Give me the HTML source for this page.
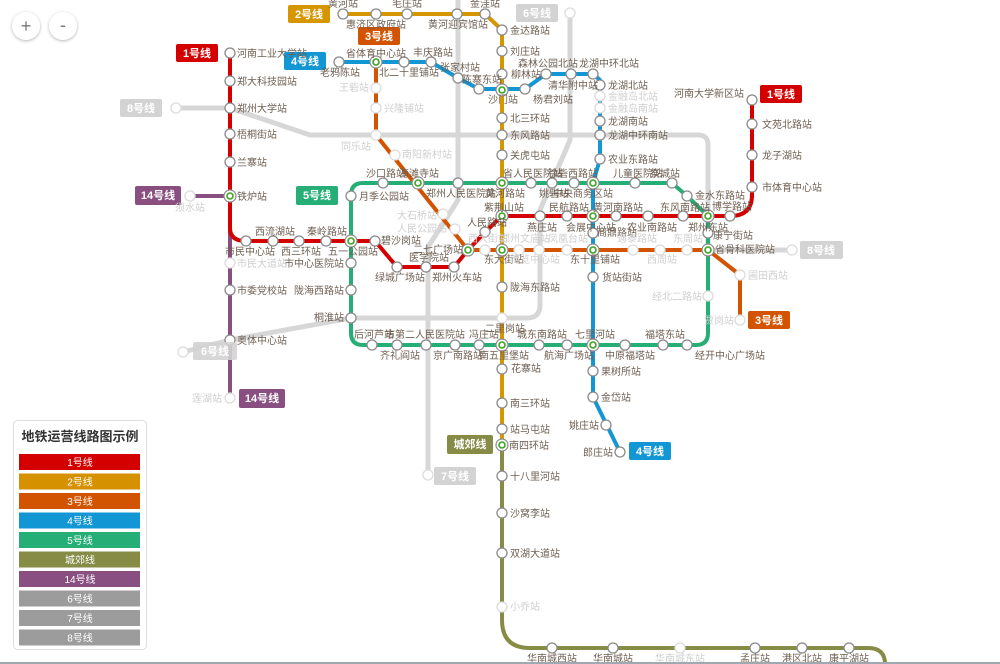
<!DOCTYPE html>
<html><head><meta charset="utf-8"><style>
html,body{margin:0;padding:0;background:#fff;width:1000px;height:664px;overflow:hidden}
svg{display:block;font-family:"Liberation Sans","Noto Sans CJK SC",sans-serif}
.l{font-size:10px;fill:#6e5e50}
.g{font-size:10px;fill:#cfcfcf}
.st{fill:#fff;stroke:#8a8a8a;stroke-width:1.3}
.gs{fill:#fff;stroke:#dcdcdc;stroke-width:1.3}
.tag{font-size:11px;fill:#fff;text-anchor:middle;font-weight:bold}
.lg{font-size:10px;fill:#fff;text-anchor:middle}
</style></head><body>
<svg width="1000" height="664" viewBox="0 0 1000 664">
<defs><filter id="sh" x="-30%" y="-30%" width="160%" height="160%"><feDropShadow dx="0" dy="1" stdDeviation="1.5" flood-color="#000" flood-opacity="0.3"/></filter></defs>
<!-- zoom buttons -->
<circle cx="26" cy="26" r="14" fill="#fff" filter="url(#sh)"/>
<circle cx="63" cy="26" r="14" fill="#fff" filter="url(#sh)"/>
<text x="26" y="32" font-size="18" fill="#777" text-anchor="middle">+</text>
<text x="63" y="31" font-size="18" fill="#777" text-anchor="middle">-</text>

<!-- gray lines -->
<g fill="none" stroke="#d7d7d7" stroke-width="5" stroke-linejoin="round">
<path d="M176,108 L230,108 L310,135 H698 Q708,135 708,145 V250 H792"/>
<path d="M570,13 V140 L540,210 V305 Q540,318 527,318 H351 L230,340 L183,352"/>
<path d="M458,0 V200 L428,247 V475"/>
</g>

<!-- colored lines -->
<g fill="none" stroke-width="4" stroke-linejoin="round">
<path stroke="#25ae76" d="M363,183 H672 L687,196 L708,216 V333 Q708,345 696,345 H363 Q351,345 351,333 V195 Q351,183 363,183 Z"/>
<path stroke="#868b45" d="M502,445 V620 Q502,648 530,648 H868 Q885,648 885,664"/>
<path stroke="#d69600" d="M343,14 H485 L502,30 V445"/>
<path stroke="#d35400" d="M376,62 V135 L468,250 H708 L740,275 V320"/>
<path stroke="#1296d4" d="M339,62 H431 L458,78 L479,89 H525 L546,74 H593 L600,80 V159 L593,183 V397 L620,452"/>
<path stroke="#894f80" d="M190,196 H230 V398"/>
<path stroke="#d40000" d="M230,53 V228 Q230,241 246,241 H375 L397,267 H454 L468,250 L485,232 L502,216 H730 Q752,216 752,195 V100"/>
</g>

<!-- gray end circles -->
<g class="gs"><circle cx="176" cy="108" r="5"/><circle cx="570" cy="13" r="5"/><circle cx="183" cy="352" r="5"/><circle cx="428" cy="475" r="5"/><circle cx="792" cy="250" r="5"/><circle cx="502" cy="318" r="5"/><circle cx="351" cy="318" r="5" class="st"/></g>

<!-- stations -->
<g class="st">
<!-- line1 -->
<circle cx="230" cy="53" r="5"/><circle cx="230" cy="81" r="5"/><circle cx="230" cy="108" r="5"/><circle cx="230" cy="134" r="5"/><circle cx="230" cy="162" r="5"/>
<circle cx="246" cy="241" r="5"/><circle cx="273" cy="241" r="5"/><circle cx="299" cy="241" r="5"/><circle cx="326" cy="241" r="5"/><circle cx="375" cy="241" r="5"/>
<circle cx="397" cy="267" r="5"/><circle cx="426" cy="267" r="5"/><circle cx="454" cy="267" r="5"/><circle cx="485" cy="232" r="5"/>
<circle cx="540" cy="216" r="5"/><circle cx="567" cy="216" r="5"/><circle cx="616" cy="216" r="5"/><circle cx="648" cy="216" r="5"/><circle cx="683" cy="216" r="5"/><circle cx="730" cy="216" r="5"/>
<circle cx="752" cy="187" r="5"/><circle cx="752" cy="155" r="5"/><circle cx="752" cy="124" r="5"/><circle cx="752" cy="100" r="5"/>
<!-- line14 -->
<circle cx="230" cy="290" r="5"/><circle cx="230" cy="340" r="5"/>
<!-- line2 -->
<circle cx="343" cy="14" r="5"/><circle cx="376" cy="14" r="5"/><circle cx="407" cy="14" r="5"/><circle cx="457" cy="14" r="5"/><circle cx="485" cy="14" r="5"/>
<circle cx="502" cy="30" r="5"/><circle cx="502" cy="51" r="5"/><circle cx="502" cy="74" r="5"/><circle cx="502" cy="118" r="5"/><circle cx="502" cy="135" r="5"/><circle cx="502" cy="155" r="5"/>
<circle cx="502" cy="287" r="5"/><circle cx="502" cy="369" r="5"/><circle cx="502" cy="403" r="5"/><circle cx="502" cy="429" r="5"/>
<!-- 城郊 -->
<circle cx="502" cy="476" r="5"/><circle cx="502" cy="513" r="5"/><circle cx="502" cy="553" r="5"/>
<circle cx="552" cy="648" r="5"/><circle cx="613" cy="648" r="5"/><circle cx="755" cy="648" r="5"/><circle cx="802" cy="648" r="5"/><circle cx="849" cy="648" r="5"/>
<!-- line4 -->
<circle cx="339" cy="62" r="5"/><circle cx="404" cy="62" r="5"/><circle cx="431" cy="62" r="5"/><circle cx="458" cy="78" r="5"/><circle cx="479" cy="89" r="5"/><circle cx="525" cy="89" r="5"/>
<circle cx="546" cy="74" r="5"/><circle cx="571" cy="74" r="5"/><circle cx="593" cy="74" r="5"/><circle cx="600" cy="85" r="5"/><circle cx="600" cy="121" r="5"/><circle cx="600" cy="135" r="5"/><circle cx="600" cy="159" r="5"/>
<circle cx="593" cy="233" r="5"/><circle cx="593" cy="277" r="5"/><circle cx="593" cy="371" r="5"/><circle cx="593" cy="397" r="5"/><circle cx="606" cy="425" r="5"/><circle cx="620" cy="452" r="5"/>
<!-- line5 -->
<circle cx="383" cy="183" r="5"/><circle cx="458" cy="183" r="5"/><circle cx="531" cy="183" r="5"/><circle cx="552" cy="183" r="5"/><circle cx="574" cy="183" r="5"/><circle cx="635" cy="183" r="5"/><circle cx="672" cy="183" r="5"/><circle cx="687" cy="196" r="5"/>
<circle cx="708" cy="233" r="5"/><circle cx="351" cy="196" r="5"/><circle cx="351" cy="263" r="5"/><circle cx="351" cy="290" r="5"/>
<circle cx="372" cy="345" r="5"/><circle cx="397" cy="345" r="5"/><circle cx="426" cy="345" r="5"/><circle cx="455" cy="345" r="5"/><circle cx="479" cy="345" r="5"/><circle cx="539" cy="345" r="5"/><circle cx="567" cy="345" r="5"/><circle cx="625" cy="345" r="5"/><circle cx="663" cy="345" r="5"/><circle cx="687" cy="345" r="5"/>
</g>
<!-- gray stations -->
<g class="gs">
<circle cx="190" cy="196" r="5"/><circle cx="230" cy="263" r="5"/><circle cx="230" cy="398" r="5"/>
<circle cx="376" cy="88" r="5"/><circle cx="376" cy="108" r="5"/><circle cx="376" cy="135" r="5"/><circle cx="395" cy="155" r="5"/><circle cx="443" cy="214" r="5"/><circle cx="455" cy="229" r="5"/>
<circle cx="485" cy="250" r="5"/><circle cx="519" cy="250" r="5"/><circle cx="539" cy="250" r="5"/><circle cx="567" cy="250" r="5"/><circle cx="633" cy="250" r="5"/><circle cx="660" cy="250" r="5"/><circle cx="687" cy="250" r="5"/>
<circle cx="740" cy="275" r="5"/><circle cx="740" cy="320" r="5"/><circle cx="708" cy="296" r="5"/>
<circle cx="600" cy="96" r="5"/><circle cx="600" cy="108" r="5"/><circle cx="502" cy="607" r="5"/><circle cx="680" cy="648" r="5"/>
</g>
<!-- interchanges -->
<g>
<g fill="#fff" stroke="#8a8a8a" stroke-width="1.2">
<circle cx="230" cy="196" r="6"/><circle cx="351" cy="241" r="6"/><circle cx="418" cy="183" r="6"/><circle cx="376" cy="62" r="6"/><circle cx="502" cy="90" r="6"/><circle cx="502" cy="183" r="6"/><circle cx="593" cy="183" r="6"/><circle cx="502" cy="216" r="6"/><circle cx="593" cy="216" r="6"/><circle cx="468" cy="250" r="6"/><circle cx="502" cy="250" r="6"/><circle cx="593" cy="250" r="6"/><circle cx="708" cy="216" r="6"/><circle cx="708" cy="250" r="6"/><circle cx="502" cy="345" r="6"/><circle cx="593" cy="345" r="6"/><circle cx="502" cy="445" r="6"/>
</g>
<g fill="none" stroke="#3aa620" stroke-width="1.6">
<circle cx="230" cy="196" r="3"/><circle cx="351" cy="241" r="3"/><circle cx="418" cy="183" r="3"/><circle cx="376" cy="62" r="3"/><circle cx="502" cy="90" r="3"/><circle cx="502" cy="183" r="3"/><circle cx="593" cy="183" r="3"/><circle cx="502" cy="216" r="3"/><circle cx="593" cy="216" r="3"/><circle cx="468" cy="250" r="3"/><circle cx="502" cy="250" r="3"/><circle cx="593" cy="250" r="3"/><circle cx="708" cy="216" r="3"/><circle cx="708" cy="250" r="3"/><circle cx="502" cy="345" r="3"/><circle cx="593" cy="345" r="3"/><circle cx="502" cy="445" r="3"/>
</g></g>

<!-- line tags -->
<g>
<rect x="176" y="44" width="42" height="18" rx="2" fill="#d40000"/><text class="tag" x="197" y="57">1号线</text>
<rect x="760" y="85" width="42" height="18" rx="2" fill="#d40000"/><text class="tag" x="781" y="98">1号线</text>
<rect x="288" y="5" width="42" height="18" rx="2" fill="#d69600"/><text class="tag" x="309" y="18">2号线</text>
<rect x="358" y="27" width="42" height="18" rx="2" fill="#d35400"/><text class="tag" x="379" y="40">3号线</text>
<rect x="748" y="311" width="42" height="18" rx="2" fill="#d35400"/><text class="tag" x="769" y="324">3号线</text>
<rect x="284" y="52" width="42" height="18" rx="2" fill="#1296d4"/><text class="tag" x="305" y="65">4号线</text>
<rect x="629" y="442" width="42" height="18" rx="2" fill="#1296d4"/><text class="tag" x="650" y="455">4号线</text>
<rect x="296" y="186" width="42" height="19" rx="2" fill="#25ae76"/><text class="tag" x="317" y="199">5号线</text>
<rect x="447" y="435" width="46" height="19" rx="2" fill="#868b45"/><text class="tag" x="470" y="448">城郊线</text>
<rect x="135" y="186" width="46" height="19" rx="2" fill="#894f80"/><text class="tag" x="158" y="199">14号线</text>
<rect x="239" y="389" width="46" height="19" rx="2" fill="#894f80"/><text class="tag" x="262" y="402">14号线</text>
<rect x="120" y="99" width="42" height="18" rx="2" fill="#d3d3d3"/><text class="tag" x="141" y="112">8号线</text>
<rect x="800" y="241" width="43" height="18" rx="2" fill="#d3d3d3"/><text class="tag" x="821" y="254">8号线</text>
<rect x="516" y="4" width="42" height="18" rx="2" fill="#d3d3d3"/><text class="tag" x="537" y="17">6号线</text>
<rect x="193" y="342" width="44" height="18" rx="2" fill="#d3d3d3" opacity="0.9"/><text class="tag" x="215" y="355">6号线</text>
<rect x="434" y="467" width="42" height="18" rx="2" fill="#d3d3d3"/><text class="tag" x="455" y="480">7号线</text>
</g>

<!-- labels -->
<g class="l">
<text x="237" y="57">河南工业大学站</text><text x="237" y="85">郑大科技园站</text><text x="237" y="112">郑州大学站</text><text x="237" y="138">梧桐街站</text><text x="237" y="166">兰寨站</text><text x="237" y="200">铁炉站</text>
<text x="225" y="255">市民中心站</text><text x="255" y="235">西流湖站</text><text x="281" y="255">西三环站</text><text x="307" y="235">秦岭路站</text><text x="328" y="255">五一公园站</text><text x="381" y="244">碧沙岗站</text>
<text x="375" y="281">绿城广场站</text><text x="409" y="261">医学院站</text><text x="432" y="281">郑州火车站</text><text x="463" y="253" text-anchor="end">二七广场站</text><text x="467" y="226">人民路站</text>
<text x="484" y="211">紫荆山站</text><text x="527" y="231">燕庄站</text><text x="549" y="211">民航路站</text><text x="566" y="231">会展中心站</text><text x="593" y="211">黄河南路站</text><text x="627" y="231">农业南路站</text><text x="660" y="211">东风南路站</text><text x="688" y="231">郑州东站</text><text x="712" y="210">博学路站</text>
<text x="762" y="191">市体育中心站</text><text x="762" y="159">龙子湖站</text><text x="762" y="128">文苑北路站</text><text x="744" y="97" text-anchor="end">河南大学新区站</text>
<text x="237" y="294">市委党校站</text><text x="237" y="344">奥体中心站</text>
<text x="343" y="7" text-anchor="middle">黄河站</text><text x="376" y="28" text-anchor="middle">惠济区政府站</text><text x="407" y="7" text-anchor="middle">毛庄站</text><text x="458" y="28" text-anchor="middle">黄河迎宾馆站</text><text x="485" y="7" text-anchor="middle">金洼站</text>
<text x="510" y="34">金达路站</text><text x="510" y="55">刘庄站</text><text x="511" y="78">柳林站</text><text x="488" y="103">沙门站</text><text x="510" y="122">北三环站</text><text x="510" y="139">东风路站</text><text x="510" y="159">关虎屯站</text>
<text x="426" y="197">郑州人民医院站</text><text x="485" y="197">黄河路站</text><text x="503" y="177">省人民医院站</text><text x="548" y="177">徐砦西路站</text><text x="539" y="197">姚砦站</text><text x="553" y="197">中央商务区站</text><text x="613" y="177">儿童医院站</text><text x="650" y="177">祭城站</text><text x="695" y="199">金水东路站</text>
<text x="359" y="200">月季公园站</text><text x="366" y="177">沙口路站</text><text x="399" y="177">海滩寺站</text>
<text x="344" y="267" text-anchor="end">市中心医院站</text><text x="344" y="294" text-anchor="end">陇海西路站</text><text x="344" y="321" text-anchor="end">桐淮站</text>
<text x="354" y="338">后河芦站</text><text x="385" y="338">市第二人民医院站</text><text x="469" y="338">冯庄站</text><text x="485" y="332">二里岗站</text><text x="517" y="338">城东南路站</text><text x="575" y="338">七里河站</text><text x="645" y="338">福塔东站</text>
<text x="380" y="359">齐礼阎站</text><text x="433" y="359">京广南路站</text><text x="479" y="359">南五里堡站</text><text x="544" y="359">航海广场站</text><text x="605" y="359">中原福塔站</text><text x="695" y="359">经开中心广场站</text>
<text x="510" y="291">陇海东路站</text><text x="511" y="372">花寨站</text><text x="510" y="407">南三环站</text><text x="510" y="433">站马屯站</text><text x="509" y="449">南四环站</text><text x="510" y="480">十八里河站</text><text x="510" y="517">沙窝李站</text><text x="510" y="557">双湖大道站</text>
<text x="602" y="281">货站街站</text><text x="601" y="375">果树所站</text><text x="601" y="401">金岱站</text><text x="599" y="429" text-anchor="end">姚庄站</text><text x="613" y="456" text-anchor="end">郎庄站</text>
<text x="340" y="76" text-anchor="middle">老鸦陈站</text><text x="376" y="57" text-anchor="middle">省体育中心站</text><text x="379" y="76">北二十里铺站</text><text x="413" y="56">丰庆路站</text><text x="440" y="71">张家村站</text><text x="462" y="83">陈寨东站</text>
<text x="518" y="67">森林公园北站</text><text x="579" y="67">龙湖中环北站</text><text x="548" y="89">清华附中站</text><text x="533" y="103">杨君刘站</text>
<text x="608" y="89">龙湖北站</text><text x="608" y="125">龙湖南站</text><text x="608" y="139">龙湖中环南站</text><text x="608" y="163">农业东路站</text><text x="597" y="236">商鼎路站</text>
<text x="484" y="263">东大街站</text><text x="570" y="263">东十里铺站</text><text x="713" y="239">康宁街站</text><text x="715" y="253">省骨科医院站</text>
<text x="552" y="662" text-anchor="middle">华南城西站</text><text x="613" y="662" text-anchor="middle">华南城站</text><text x="755" y="662" text-anchor="middle">孟庄站</text><text x="802" y="662" text-anchor="middle">港区北站</text><text x="849" y="662" text-anchor="middle">康平湖站</text>
</g>
<g class="g">
<text x="190" y="211" text-anchor="middle">须水站</text><text x="237" y="267">市民大道站</text><text x="222" y="402" text-anchor="end">莲湖站</text>
<text x="369" y="91" text-anchor="end">王砦站</text><text x="384" y="112">兴隆铺站</text><text x="356" y="150" text-anchor="middle">同乐站</text><text x="402" y="158">南阳新村站</text><text x="437" y="219" text-anchor="end">大石桥站</text><text x="447" y="232" text-anchor="end">人民公园站</text>
<text x="468" y="242">西大街站</text><text x="500" y="242">郑州文庙站</text><text x="548" y="242">凤凰台站</text><text x="617" y="242">通泰路站</text><text x="673" y="242">东周站</text>
<text x="510" y="263">博览中心站</text><text x="647" y="263">西周站</text><text x="748" y="279">圃田西站</text><text x="734" y="324" text-anchor="end">贾岗站</text><text x="702" y="300" text-anchor="end">经北二路站</text>
<text x="608" y="100">金融岛北站</text><text x="608" y="112">金融岛南站</text><text x="510" y="610">小乔站</text><text x="680" y="662" text-anchor="middle">华南城东站</text>
</g>

<!-- legend -->
<rect x="13.5" y="420.5" width="133" height="229" rx="4" fill="#fff" stroke="#ddd"/>
<text x="80" y="441" font-size="13" font-weight="bold" fill="#333" text-anchor="middle">地铁运营线路图示例</text>
<g>
<rect x="19" y="454" width="121" height="16" fill="#d40000"/><text class="lg" x="80" y="466">1号线</text>
<rect x="19" y="473.5" width="121" height="16" fill="#d69100"/><text class="lg" x="80" y="485.5">2号线</text>
<rect x="19" y="493" width="121" height="16" fill="#d35400"/><text class="lg" x="80" y="505">3号线</text>
<rect x="19" y="512.5" width="121" height="16" fill="#1296d4"/><text class="lg" x="80" y="524.5">4号线</text>
<rect x="19" y="532" width="121" height="16" fill="#25ae76"/><text class="lg" x="80" y="544">5号线</text>
<rect x="19" y="551.5" width="121" height="16" fill="#868b45"/><text class="lg" x="80" y="563.5">城郊线</text>
<rect x="19" y="571" width="121" height="16" fill="#894f80"/><text class="lg" x="80" y="583">14号线</text>
<rect x="19" y="590.5" width="121" height="16" fill="#9c9c9c"/><text class="lg" x="80" y="602.5">6号线</text>
<rect x="19" y="610" width="121" height="16" fill="#9c9c9c"/><text class="lg" x="80" y="622">7号线</text>
<rect x="19" y="629.5" width="121" height="16" fill="#9c9c9c"/><text class="lg" x="80" y="641.5">8号线</text>
</g>
<rect x="0" y="662" width="1000" height="2" fill="#a0a8b0"/>
</svg>
</body></html>
